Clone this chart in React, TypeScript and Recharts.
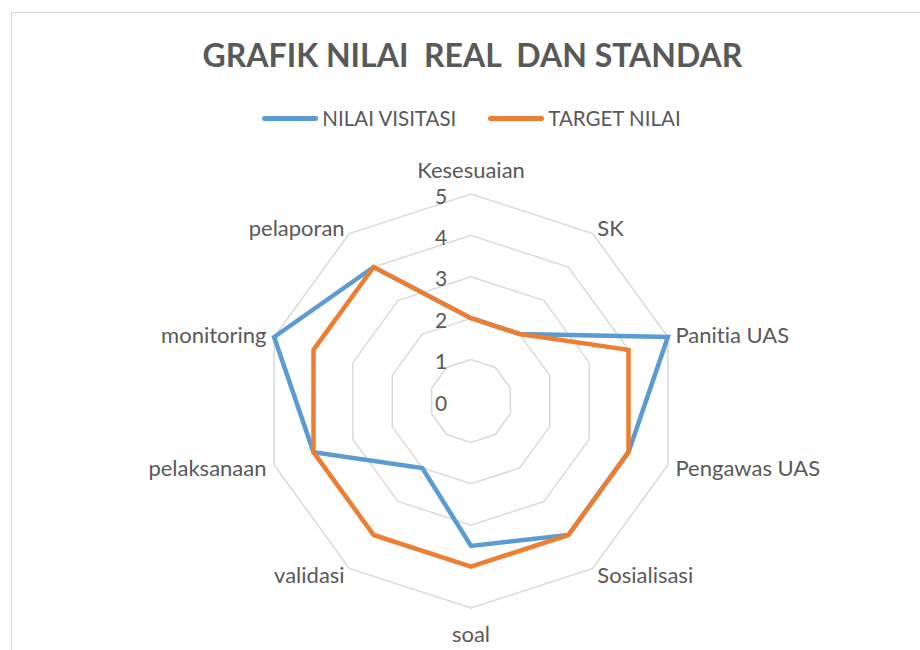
import { RadarChart, Radar, PolarGrid, PolarAngleAxis, PolarRadiusAxis } from "recharts";

// categories around the radar (clockwise from top)
const categories = [
  "Kesesuaian",
  "SK",
  "Panitia UAS",
  "Pengawas UAS",
  "Sosialisasi",
  "soal",
  "validasi",
  "pelaksanaan",
  "monitoring",
  "pelaporan",
];

const nilaiVisitasi = [2, 2, 5, 4, 4, 3.5, 2, 4, 5, 4];
const targetNilai = [2, 2, 4, 4, 4, 4, 4, 4, 4, 4];

const seriesNames = ["NILAI VISITASI", "TARGET NILAI"];
const seriesColors = ["#5B9BD5", "#ED7D31"];
const radiusTicks = [0, 1, 2, 3, 4, 5];

const data = categories.map((name, i) => ({
  name,
  visitasi: nilaiVisitasi[i],
  target: targetNilai[i],
}));

const CX = 471;
const CY = 401;
const R = 207;
const FONT = "Lato, 'Noto Sans', sans-serif";
const GREY = "#595959";

function AngleTick(props: any) {
  const { x, y, payload } = props;
  const dx = x - CX;
  const vertical = Math.abs(dx) < 1;
  const anchor = vertical ? "middle" : dx > 0 ? "start" : "end";
  const dy = vertical ? (y < CY ? -17 : 17) : 0;
  return (
    <text
      x={x}
      y={y + dy}
      textAnchor={anchor}
      dominantBaseline="central"
      fill={GREY}
      fontSize={22}
      fontFamily={FONT}
      style={{ fontVariantLigatures: "none" }}
    >
      {payload.value}
    </text>
  );
}

function RadiusTick(props: any) {
  const { x, y, payload } = props;
  return (
    <text
      x={x - 30}
      y={y + 1}
      textAnchor="middle"
      dominantBaseline="central"
      fill={GREY}
      fontSize={21}
      fontFamily={FONT}
    >
      {payload.value}
    </text>
  );
}

export default function App() {
  return (
    <div
      style={{
        position: "absolute",
        left: 0,
        top: 0,
        width: 920,
        height: 650,
        overflow: "hidden",
        background: "#fff",
        fontFamily: FONT,
        fontVariantLigatures: "none",
      }}
    >
      {/* chart frame */}
      <div
        style={{
          position: "absolute",
          left: 11,
          top: 12,
          width: 1000,
          height: 1000,
          border: "1.5px solid #d9d9d9",
        }}
      />
      <div
        style={{
          position: "absolute",
          left: 0,
          top: 35,
          width: 945,
          textAlign: "center",
          fontSize: 32,
          fontWeight: 700,
          color: GREY,
          whiteSpace: "pre",
        }}
      >
        GRAFIK NILAI  REAL  DAN STANDAR
      </div>
      <div
        style={{
          position: "absolute",
          left: 0,
          top: 106,
          width: 943,
          display: "flex",
          justifyContent: "center",
          gap: 32,
        }}
      >
        {seriesNames.map((n, i) => (
          <div key={n} style={{ display: "flex", alignItems: "center", gap: 4 }}>
            <div
              style={{
                width: 56,
                height: 5,
                borderRadius: 3,
                background: seriesColors[i],
              }}
            />
            <span style={{ fontSize: 20.5, color: GREY }}>{n}</span>
          </div>
        ))}
      </div>
      <div style={{ position: "absolute", left: 0, top: 0 }}>
        <RadarChart
          width={920}
          height={650}
          data={data}
          cx={CX}
          cy={CY}
          outerRadius={R}
          margin={{ top: 0, right: 0, bottom: 0, left: 0 }}
        >
          <PolarGrid gridType="polygon" radialLines={false} stroke="#d9d9d9" strokeWidth={1.5} />
          <PolarAngleAxis dataKey="name" tick={AngleTick} tickLine={false} axisLine={false} />
          <PolarRadiusAxis
            angle={90}
            domain={[0, 5]}
            ticks={radiusTicks as any}
            tickCount={6}
            axisLine={false}
            tick={RadiusTick}
          />
          <Radar
            name={seriesNames[0]}
            dataKey="visitasi"
            stroke={seriesColors[0]}
            strokeWidth={4.5}
            fill="none"
            fillOpacity={0}
            dot={false}
            isAnimationActive={false}
          />
          <Radar
            name={seriesNames[1]}
            dataKey="target"
            stroke={seriesColors[1]}
            strokeWidth={4.5}
            fill="none"
            fillOpacity={0}
            dot={false}
            isAnimationActive={false}
          />
        </RadarChart>
      </div>
    </div>
  );
}
